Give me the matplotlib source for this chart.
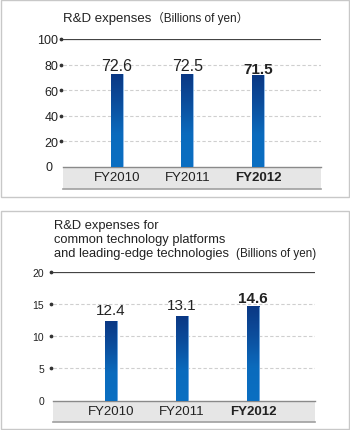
import numpy as np
import matplotlib
matplotlib.use("Agg")
import matplotlib.pyplot as plt
from matplotlib.colors import LinearSegmentedColormap
from matplotlib.patches import Rectangle
from matplotlib.lines import Line2D
import matplotlib.transforms as mtransforms

plt.rcParams['font.family'] = ['Liberation Sans', 'Noto Sans CJK JP', 'DejaVu Sans']

# data
years = ["FY2010", "FY2011", "FY2012"]
rd_total = [72.6, 72.5, 71.5]
rd_common = [12.4, 13.1, 14.6]
ticks_total = [0, 20, 40, 60, 80, 100]
ticks_common = [0, 5, 10, 15, 20]

W, H = 350, 431
fig = plt.figure(figsize=(W / 100, H / 100), dpi=100)

def fx(px):
    return px / W

def fy(py):
    return (H - py) / H

# bar gradient: dark navy at top -> mid blue at bottom
grad = LinearSegmentedColormap.from_list(
    "bar", [(0.0, "#0a6fc2"), (0.35, "#0b6bbd"), (0.7, "#0c4d9c"), (1.0, "#0a3884")])
grad_img = np.linspace(0, 1, 128).reshape(-1, 1)

# panel frames
for top, bot in [(0.5, 198), (212, 430)]:
    fig.patches.append(Rectangle((fx(0.5), fy(bot)), fx(349) - fx(0.5), fy(top) - fy(bot),
                                 transform=fig.transFigure, fill=False,
                                 edgecolor="#c8c8c8", lw=1))


def panel(ax, values, ticks, xlim, band, tick_pad, tick_size, label_sizes, gaps, zero_shift):
    ymax = ticks[-1]
    x = np.arange(len(values))
    bars = ax.bar(x, values, width=0.17, color="none", zorder=3)
    for b in bars:
        ax.imshow(grad_img, cmap=grad, origin="lower", aspect="auto",
                  extent=(b.get_x(), b.get_x() + b.get_width(), 0, b.get_height()),
                  zorder=3, interpolation="bilinear")
        ax.plot([b.get_x() + b.get_width()] * 2, [0, b.get_height()],
                color="#7fb2e6", lw=0.6, zorder=4)
    ax.set_xlim(*xlim)
    ax.set_ylim(0, ymax)

    for s in ax.spines.values():
        s.set_visible(False)

    # grid
    for t in ticks[1:-1]:
        ax.axhline(t, color="#cfcfcf", lw=0.8, ls=(0, (3, 2)), zorder=1)
    ax.axhline(ymax, color="#444444", lw=0.9, zorder=1)

    # tick dots
    tr = mtransforms.blended_transform_factory(ax.transAxes, ax.transData)
    ax.plot([-0.006] * (len(ticks) - 1), ticks[1:], "o", ms=1.7, color="#333333",
            transform=tr, clip_on=False, zorder=5)

    ax.set_yticks(ticks, [""] + [str(t) for t in ticks[1:]])
    ax.tick_params(axis="y", length=0, pad=tick_pad, labelsize=tick_size,
                   labelcolor="#222222")
    ax.annotate(str(ticks[0]), (0, 0), xycoords=tr,
                xytext=(-(tick_pad + zero_shift), 0), textcoords="offset points",
                ha="right", va="center", fontsize=tick_size, color="#222222")

    # gray category band under the axis
    ax.add_patch(Rectangle((0, -band), 1, band, transform=ax.transAxes,
                           facecolor="#e6e6e6", edgecolor="none", clip_on=False, zorder=0))
    ax.add_line(Line2D([0, 1], [0, 0], transform=ax.transAxes, color="#8a8a8a",
                       lw=1, clip_on=False, zorder=2))
    ax.add_line(Line2D([0, 1], [-band, -band], transform=ax.transAxes, color="#a0a0a0",
                       lw=1.2, clip_on=False, zorder=2))

    ax.set_xticks(x, years)
    ax.tick_params(axis="x", length=0, pad=3, labelsize=9.5, labelcolor="#222222")
    ax.get_xticklabels()[-1].set_fontweight("bold")

    # value labels
    for i, v in enumerate(values):
        last = i == len(values) - 1
        ax.annotate(f"{v:.1f}", (i, v), xytext=(0, gaps[1] if last else gaps[0]),
                    textcoords="offset points", ha="center", va="baseline",
                    fontsize=label_sizes[1] if last else label_sizes[0],
                    fontweight="bold" if last else "normal", color="#222222", zorder=5)


# top chart
ax1 = fig.add_axes([fx(63), fy(168), fx(321) - fx(63), fy(40) - fy(168)])
panel(ax1, rd_total, ticks_total, (-0.766, 2.894), 22 / 128, 3.4, 9,
      (11.5, 11), (3, 2), 4)
fig.text(fx(63), fy(21.7), "R&D expenses", fontsize=9.5, color="#222222", va="baseline")
fig.text(fx(152), fy(21.7), "（Billions of yen）", fontsize=8.5, color="#222222", va="baseline")

# bottom chart
ax2 = fig.add_axes([fx(53), fy(401.7), fx(315) - fx(53), fy(272.7) - fy(401.7)])
panel(ax2, rd_common, ticks_common, (-0.817, 2.873), 21 / 129, 6.3, 7.5,
      (11, 11), (5, 3), 0)
fig.text(fx(54), fy(229), "R&D expenses for", fontsize=9.3, color="#222222", va="baseline")
fig.text(fx(54), fy(243), "common technology platforms", fontsize=9.3, color="#222222", va="baseline")
fig.text(fx(54), fy(257.5), "and leading-edge technologies", fontsize=9.3, color="#222222", va="baseline")
fig.text(fx(236), fy(257.5), "(Billions of yen)", fontsize=8.4, color="#222222", va="baseline")

fig.savefig("out.png", dpi=100)
